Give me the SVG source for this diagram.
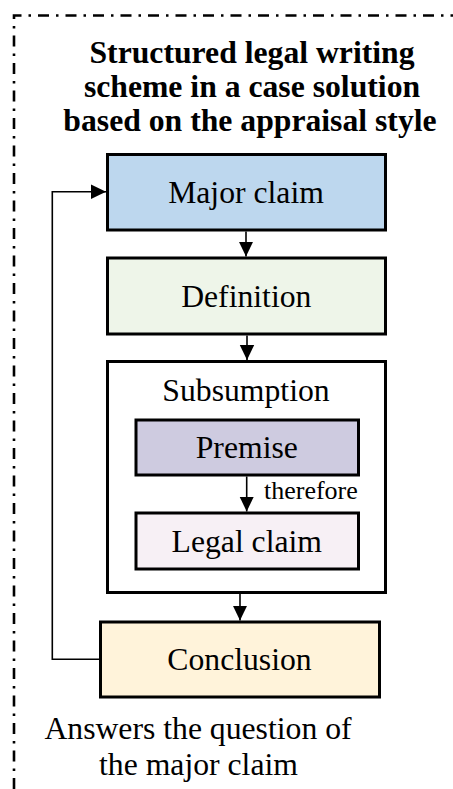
<svg xmlns="http://www.w3.org/2000/svg" width="453" height="789" viewBox="0 0 453 789">
<style>
  text { font-family: "Liberation Serif", "Times New Roman", serif; fill: #000; }
  .t { font-size: 31.7px; text-anchor: middle; }
  .title { font-size: 31.7px; font-weight: bold; text-anchor: middle; }
  .small { font-size: 26px; }
  .box { stroke: #000; stroke-width: 3; }
  .conn { fill: none; stroke: #000; stroke-width: 1.6; }
</style>
<defs>
  <marker id="arr" markerUnits="userSpaceOnUse" markerWidth="16" markerHeight="16" viewBox="0 0 16 16" refX="15" refY="8" orient="auto">
    <path d="M0,0.8 L15,8 L0,15.2 Z" fill="#000"/>
  </marker>
</defs>
<rect width="453" height="789" fill="#fff"/>
<path id="frame" d="M14 789 V15.5 H453" fill="none" stroke="#000" stroke-width="2.6" stroke-dasharray="11 7 2.5 7"/>
<g id="title">
  <text class="title" x="252" y="63">Structured legal writing</text>
  <text class="title" x="252" y="97">scheme in a case solution</text>
  <text class="title" x="250" y="131">based on the appraisal style</text>
</g>
<g id="major-claim">
  <rect class="box" x="107.5" y="154.5" width="278" height="75.5" fill="#BDD7EE"/>
  <text class="t" x="246" y="203.3">Major claim</text>
</g>
<g id="definition">
  <rect class="box" x="107.5" y="258" width="278" height="76" fill="#EEF5E9"/>
  <text class="t" x="246.3" y="306.7">Definition</text>
</g>
<g id="subsumption">
  <rect class="box" x="107.5" y="361.5" width="278" height="231" fill="#FFFFFF"/>
  <text class="t" x="246" y="400.7">Subsumption</text>
</g>
<g id="premise">
  <rect class="box" x="136" y="420" width="222.5" height="55" fill="#CECBE0"/>
  <text class="t" x="246.8" y="458.3">Premise</text>
</g>
<g id="therefore-label">
  <text class="small" x="264" y="499.3">therefore</text>
</g>
<g id="legal-claim">
  <rect class="box" x="136" y="513" width="222.5" height="56" fill="#F7F0F5"/>
  <text class="t" x="246.8" y="551.7">Legal claim</text>
</g>
<g id="conclusion">
  <rect class="box" x="100.5" y="622" width="279" height="75" fill="#FFF3DA"/>
  <text class="t" x="239.5" y="670">Conclusion</text>
</g>
<g id="note">
  <text class="t" x="198" y="739">Answers the question of</text>
  <text class="t" x="198.5" y="775">the major claim</text>
</g>
<g id="connectors">
  <line class="conn" x1="246" y1="231.5" x2="246" y2="256.5" marker-end="url(#arr)"/>
  <line class="conn" x1="247" y1="335.5" x2="247" y2="360" marker-end="url(#arr)"/>
  <line class="conn" x1="246.7" y1="476.5" x2="246.7" y2="511.5" marker-end="url(#arr)"/>
  <line class="conn" x1="240" y1="594" x2="240" y2="620.5" marker-end="url(#arr)"/>
  <polyline class="conn" points="99,659.3 52.3,659.3 52.3,191.7 106,191.7" marker-end="url(#arr)"/>
</g>
</svg>
